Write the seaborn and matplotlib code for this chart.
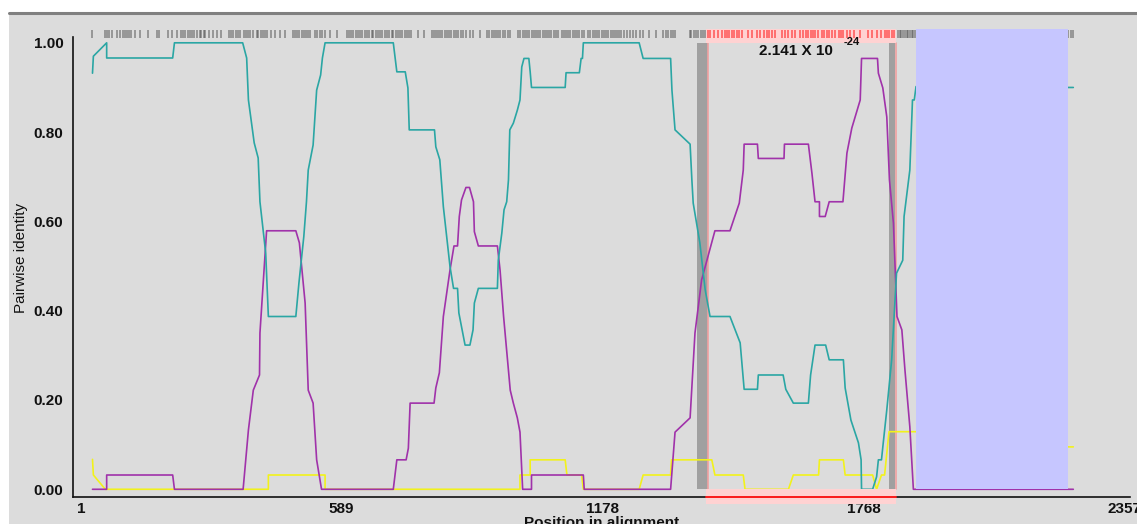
import matplotlib
matplotlib.use("Agg")
import matplotlib.pyplot as plt
from matplotlib.patches import Rectangle
from matplotlib.lines import Line2D
import seaborn as sns
import pandas as pd

# pairwise identity along the alignment (position, identity)
teal_pos = [27, 29, 59, 59, 208, 212, 366, 375, 379, 392, 401, 405, 418, 424, 486, 493, 504, 510, 514,
            525, 533, 542, 546, 552, 706, 714, 733, 739, 742, 799, 802, 811, 819, 834, 842, 851, 854, 868,
            879, 886, 889, 898, 941, 943, 951, 956, 962, 966, 969, 977, 986, 992, 996, 1001, 1012, 1015,
            1018, 1094, 1096, 1126, 1130, 1133, 1135, 1261, 1270, 1332, 1335, 1342, 1376, 1380, 1383, 1398,
            1410, 1421, 1466, 1489, 1498, 1528, 1530, 1586, 1592, 1609, 1643, 1648, 1658, 1682, 1690, 1722,
            1726, 1739, 1756, 1762, 1763, 1788, 1797, 1801, 1808, 1812, 1820, 1831, 1842, 1856, 1859, 1872,
            1878, 1882, 1886, 2228, 2241]
teal_val = [0.932, 0.970, 1.0, 0.966, 0.966, 1.0, 1.0, 0.966, 0.872, 0.776, 0.742, 0.644, 0.529, 0.387,
            0.387, 0.462, 0.566, 0.644, 0.715, 0.771, 0.894, 0.928, 0.966, 1.0, 1.0, 0.935, 0.935, 0.899,
            0.805, 0.805, 0.767, 0.738, 0.633, 0.499, 0.450, 0.450, 0.395, 0.323, 0.323, 0.357, 0.417,
            0.450, 0.450, 0.513, 0.574, 0.626, 0.644, 0.693, 0.805, 0.820, 0.849, 0.872, 0.946, 0.965,
            0.965, 0.935, 0.900, 0.900, 0.933, 0.933, 0.965, 0.965, 1.0, 1.0, 0.965, 0.965, 0.894, 0.805,
            0.773, 0.693, 0.641, 0.552, 0.447, 0.387, 0.387, 0.328, 0.224, 0.224, 0.256, 0.256, 0.224,
            0.193, 0.193, 0.256, 0.323, 0.323, 0.290, 0.290, 0.227, 0.155, 0.104, 0.066, 0.0, 0.0, 0.028,
            0.066, 0.066, 0.104, 0.178, 0.290, 0.484, 0.513, 0.611, 0.715, 0.872, 0.872, 0.902, 0.900, 0.900]

purple_pos = [27, 59, 59, 208, 212, 367, 379, 390, 404, 405, 420, 486, 494, 507, 514, 525, 533, 544, 706,
              714, 735, 740, 744, 798, 802, 810, 819, 834, 843, 851, 855, 860, 870, 878, 887, 889, 898, 941,
              947, 955, 970, 977, 986, 992, 998, 1018, 1018, 1135, 1137, 1332, 1342, 1376, 1387, 1402, 1432,
              1466, 1487, 1496, 1498, 1528, 1530, 1588, 1589, 1643, 1651, 1658, 1668, 1668, 1681, 1690, 1721,
              1730, 1741, 1760, 1763, 1799, 1801, 1811, 1820, 1826, 1835, 1843, 1854, 1861, 1872, 1880, 1886,
              2228, 2241]
purple_val = [0.0, 0.0, 0.032, 0.032, 0.0, 0.0, 0.133, 0.222, 0.256, 0.350, 0.579, 0.579, 0.552, 0.417,
              0.222, 0.193, 0.066, 0.0, 0.0, 0.066, 0.066, 0.092, 0.193, 0.193, 0.227, 0.261, 0.387, 0.491,
              0.545, 0.545, 0.611, 0.648, 0.676, 0.676, 0.644, 0.577, 0.545, 0.545, 0.491, 0.387, 0.222,
              0.193, 0.160, 0.128, 0.0, 0.0, 0.032, 0.032, 0.0, 0.0, 0.128, 0.160, 0.350, 0.469, 0.579,
              0.579, 0.641, 0.715, 0.773, 0.773, 0.741, 0.741, 0.773, 0.773, 0.708, 0.644, 0.644, 0.611,
              0.611, 0.644, 0.644, 0.753, 0.809, 0.872, 0.965, 0.965, 0.932, 0.899, 0.834, 0.693, 0.596,
              0.387, 0.357, 0.267, 0.140, 0.0, 0.0, 0.0, 0.0]

yellow_pos = [27, 29, 56, 424, 424, 552, 552, 992, 992, 1015, 1015, 1094, 1098, 1131, 1135, 1261, 1270,
              1332, 1334, 1425, 1432, 1496, 1500, 1598, 1609, 1666, 1668, 1722, 1726, 1788, 1797, 1808,
              1815, 1825, 1886, 2229, 2241]
yellow_val = [0.067, 0.032, 0.0, 0.0, 0.032, 0.032, 0.0, 0.0, 0.032, 0.032, 0.066, 0.066, 0.032, 0.032,
              0.0, 0.0, 0.032, 0.032, 0.066, 0.066, 0.032, 0.032, 0.0, 0.0, 0.032, 0.032, 0.066, 0.066,
              0.032, 0.032, 0.0, 0.032, 0.032, 0.129, 0.129, 0.095, 0.095]

# variable sites shown in the strip above the plot
site_pos = [27, 55, 60, 64, 70, 82, 89, 96, 100, 106, 110, 114, 123, 134, 153, 172, 177, 198, 207, 217,
            226, 231, 236, 242, 247, 252, 257, 262, 270, 273, 279, 282, 290, 300, 307, 317, 335, 340, 345,
            350, 355, 360, 370, 374, 379, 383, 389, 398, 401, 407, 411, 416, 421, 429, 440, 450, 461, 480,
            484, 489, 494, 499, 504, 509, 514, 519, 529, 534, 540, 546, 552, 563, 578, 601, 606, 611, 616,
            621, 627, 631, 636, 642, 646, 651, 657, 661, 666, 672, 676, 681, 687, 691, 696, 702, 706, 711,
            717, 721, 726, 732, 737, 742, 747, 762, 775, 793, 798, 802, 807, 812, 817, 822, 827, 832, 837,
            842, 847, 852, 858, 864, 871, 879, 886, 901, 918, 922, 928, 933, 937, 943, 948, 954, 959, 964,
            969, 988, 993, 998, 1003, 1008, 1013, 1018, 1023, 1028, 1033, 1038, 1043, 1048, 1053, 1058,
            1063, 1069, 1073, 1078, 1086, 1091, 1096, 1101, 1106, 1111, 1116, 1121, 1126, 1131, 1136, 1145,
            1151, 1156, 1161, 1166, 1171, 1176, 1181, 1186, 1191, 1197, 1201, 1206, 1212, 1216, 1221, 1227,
            1233, 1240, 1248, 1255, 1263, 1270, 1284, 1300, 1315, 1321, 1327, 1332, 1338, 1343, 1376, 1379,
            1385, 1389, 1394, 1400, 1404, 1409, 1417, 1422, 1430, 1440, 1447, 1455, 1460, 1464, 1470, 1475,
            1481, 1486, 1494, 1506, 1516, 1526, 1534, 1543, 1549, 1554, 1560, 1567, 1583, 1590, 1598, 1605,
            1613, 1624, 1631, 1637, 1643, 1649, 1654, 1659, 1665, 1673, 1679, 1684, 1690, 1696, 1703, 1711,
            1717, 1722, 1730, 1737, 1745, 1759, 1778, 1786, 1797, 1808, 1815, 1820, 1825, 1831, 1837, 1846,
            1850, 1853, 1857, 1861, 1865, 1868, 1872, 1876, 1880, 1884, 2230, 2236, 2241]

event_start = 1413
event_end = 1841
breakpoints = [(1391, 1416), (1825, 1839)]
masked_region = (1887, 2228)
pvalue_text = "2.141 X 10"
pvalue_exp = "-24"
x_ticks = [1, 589, 1178, 1768, 2357]
y_ticks = [0.0, 0.2, 0.4, 0.6, 0.8, 1.0]

BG = "#dcdcdc"

frames = []
for name, pos, val in [("teal", teal_pos, teal_val), ("purple", purple_pos, purple_val),
                       ("yellow", yellow_pos, yellow_val)]:
    frames.append(pd.DataFrame({"pos": pos, "identity": val, "pair": name}))
df = pd.concat(frames, ignore_index=True)

sns.set_style("white")
plt.rcParams["font.family"] = ["Liberation Sans", "DejaVu Sans"]

fig = plt.figure(figsize=(11.37, 5.24), dpi=100, facecolor=BG)
# white margin on the left and top, grey rule under it
fig.patches.append(Rectangle((0, 0), 9 / 1137, 1, transform=fig.transFigure,
                             facecolor="white", edgecolor="none", zorder=-5))
fig.patches.append(Rectangle((0, 1 - 12 / 524), 1, 12 / 524, transform=fig.transFigure,
                             facecolor="white", edgecolor="none", zorder=-5))
fig.lines.append(Line2D([9 / 1137, 1], [1 - 12.5 / 524] * 2, transform=fig.transFigure,
                        color="#808080", lw=2.2, zorder=-4))

ax = fig.add_axes([73 / 1137, 1 - 496.7 / 524, 1057 / 1137, 476.7 / 524])
ax.set_facecolor(BG)
ax.set_xlim(-17, 2369)
ax.set_ylim(-0.0166, 1.0511)

# breakpoint bands
for b0, b1 in breakpoints:
    ax.add_patch(Rectangle((b0, 0), b1 - b0, 1.0, facecolor="#a0a0a0", edgecolor="none", zorder=1))
    ax.plot([b1 + 1, b1 + 1], [0, 1.0], color="#f0a0a0", lw=1.2, zorder=1)

sns.lineplot(data=df, x="pos", y="identity", hue="pair", estimator=None, sort=False,
             palette={"teal": "#2aa6a4", "purple": "#a032aa", "yellow": "#f2f21a"},
             hue_order=["yellow", "purple", "teal"], lw=1.2, legend=False, ax=ax, zorder=3)

# site strip and significant region
ax.add_patch(Rectangle((event_start, 1.0), event_end - event_start, 0.031, facecolor="#ffd2d2",
                       edgecolor="none", zorder=2))
gray_sites = [p for p in site_pos if not event_start <= p <= event_end]
red_sites = [p for p in site_pos if event_start <= p <= event_end]
ax.vlines(gray_sites, 1.011, 1.029, colors="#4a4a4a", lw=1.1, alpha=0.6, zorder=2)
ax.vlines(red_sites, 1.011, 1.029, colors="#ff2020", lw=1.1, alpha=0.7, zorder=2)

ax.add_patch(Rectangle((masked_region[0], 0), masked_region[1] - masked_region[0], 1.031,
                       facecolor="#c6c6ff", edgecolor="none", zorder=5))

ax.add_patch(Rectangle((event_start, -0.034), event_end - event_start, 0.034, facecolor="#ffd2d2",
                       edgecolor="none", zorder=6, clip_on=False))
ax.plot([event_start, event_end], [-0.0166, -0.0166], color="#ff2020", lw=1.4, zorder=7, clip_on=False)

ax.text(1532, 0.973, pvalue_text, fontsize=11, fontweight="bold", color="#111111", zorder=8)
ax.text(1723, 0.995, pvalue_exp, fontsize=8, fontweight="bold", color="#111111", zorder=8)

sns.despine(ax=ax)
ax.spines["left"].set_bounds(-0.0166, 1.0137)
for s in ["left", "bottom"]:
    ax.spines[s].set_color("#111111")
    ax.spines[s].set_linewidth(1.2)
    ax.spines[s].set_zorder(6)

ax.set_xticks(x_ticks)
ax.set_xticklabels([str(t) for t in x_ticks], fontweight="bold")
ax.set_yticks(y_ticks)
ax.set_yticklabels([f"{t:.2f}" for t in y_ticks], fontweight="bold")
ax.tick_params(axis="x", direction="in", length=4, width=1, pad=4, labelsize=11, colors="#111111")
ax.tick_params(axis="y", direction="out", length=5, width=1, pad=2, labelsize=11, colors="#111111")

ax.set_xlabel("Position in alignment", fontsize=11, fontweight="bold", labelpad=0, color="#111111")
ax.set_ylabel("Pairwise identity", fontsize=11, labelpad=4, color="#111111")

plt.savefig("out.png", dpi=100, facecolor=BG)
plt.close()
